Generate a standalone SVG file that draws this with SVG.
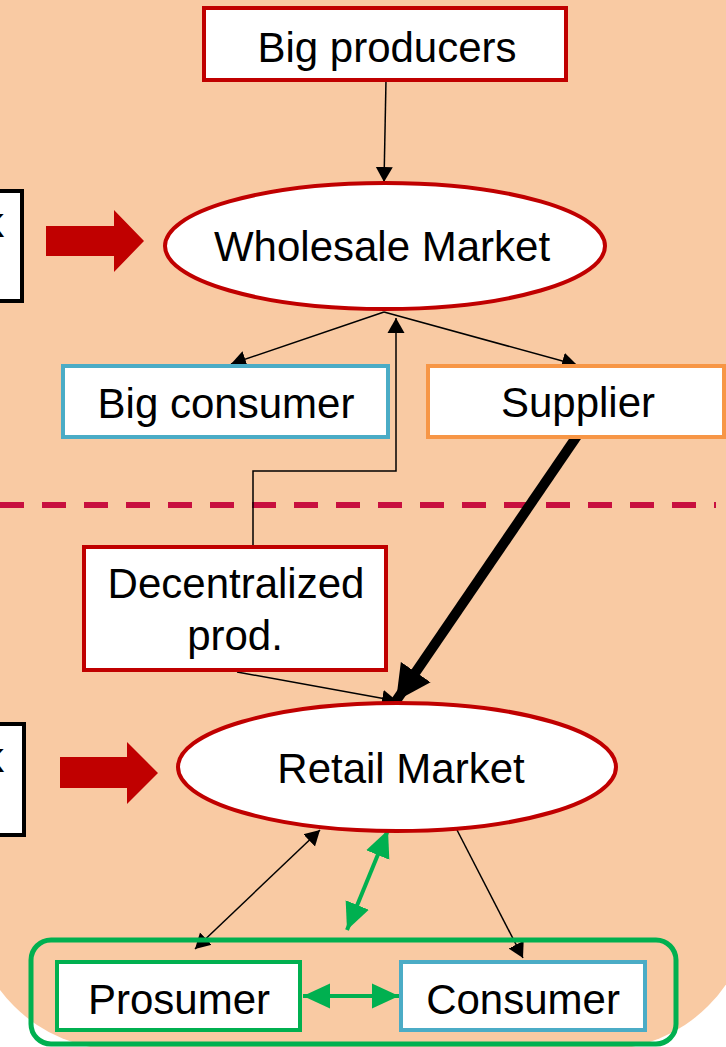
<svg xmlns="http://www.w3.org/2000/svg" width="726" height="1047" viewBox="0 0 726 1047">
  <defs>
    <style>
      .box { fill: #ffffff; stroke-width: 4; }
      .red { stroke: #C00000; }
      .blue { stroke: #4BACC6; }
      .orange { stroke: #F79646; }
      .green { stroke: #00B050; }
      .lbl { font-family: "Liberation Sans", Arial, sans-serif; font-size: 42px; fill: #000000; text-anchor: middle; }
      .thin { fill: none; stroke: #000000; stroke-width: 1.5; }
      .gline { fill: none; stroke: #00B050; stroke-width: 4; }
    </style>
    <marker id="ah" markerUnits="userSpaceOnUse" markerWidth="16" markerHeight="18" viewBox="0 0 16 18" refX="15" refY="9" orient="auto-start-reverse">
      <path d="M0,0.5 L15,9 L0,17.5 Z" fill="#000000"/>
    </marker>
    <marker id="ahBig" markerUnits="userSpaceOnUse" markerWidth="36" markerHeight="38" viewBox="0 0 36 38" refX="35" refY="19" orient="auto">
      <path d="M0,1 L35,19 L0,37 Z" fill="#000000"/>
    </marker>
    <marker id="ahG" markerUnits="userSpaceOnUse" markerWidth="28" markerHeight="26" viewBox="0 0 28 26" refX="27" refY="13" orient="auto-start-reverse">
      <path d="M0,0.5 L27,13 L0,25.5 Z" fill="#00B050"/>
    </marker>
  </defs>

  <!-- background panel -->
  <rect x="-30" y="-300" width="782" height="1350" rx="150" ry="150" fill="#F9CAA3"/>

  <!-- boundary between upper and lower level -->
  <line x1="0" y1="505" x2="716" y2="505" stroke="#C8103F" stroke-width="6" stroke-dasharray="24 18"/>

  <!-- side boxes cut at the left edge -->
  <g id="side-top">
    <rect x="-40" y="191" width="62" height="110" fill="#ffffff" stroke="#000000" stroke-width="4"/>
    <text class="lbl" x="4" y="237" style="text-anchor:end">k</text>
  </g>
  <g id="side-bottom">
    <rect x="-40" y="724" width="64" height="111" fill="#ffffff" stroke="#000000" stroke-width="4"/>
    <text class="lbl" x="4" y="772" style="text-anchor:end">k</text>
  </g>

  <!-- block arrows -->
  <g id="block-arrows" fill="#C00000">
    <path d="M46,226 L114,226 L114,210 L144,241 L114,272 L114,256 L46,256 Z"/>
    <path d="M60,757 L127,757 L127,742 L158,773 L127,804 L127,788 L60,788 Z"/>
  </g>

  <!-- connectors -->
  <g id="connectors">
    <line class="thin" x1="386" y1="80" x2="384" y2="182" marker-end="url(#ah)"/>
    <line class="thin" x1="384" y1="312" x2="231" y2="364" marker-end="url(#ah)"/>
    <line class="thin" x1="384" y1="312" x2="577" y2="365" marker-end="url(#ah)"/>
    <polyline class="thin" points="253,547 253,471 396,471 396,318" marker-end="url(#ah)"/>
    <line x1="577" y1="436" x2="396" y2="701" stroke="#000000" stroke-width="10" marker-end="url(#ahBig)"/>
    <line class="thin" x1="237" y1="672" x2="397" y2="701" marker-end="url(#ah)"/>
    <line class="thin" x1="195" y1="949" x2="320" y2="830" marker-start="url(#ah)" marker-end="url(#ah)"/>
    <line class="thin" x1="457" y1="830" x2="523" y2="958" marker-end="url(#ah)"/>
    <line class="gline" x1="347" y1="930" x2="388" y2="830" marker-start="url(#ahG)" marker-end="url(#ahG)"/>
    <line class="gline" x1="303" y1="996" x2="399" y2="996" marker-start="url(#ahG)" marker-end="url(#ahG)"/>
  </g>

  <g id="big-producers">
    <rect class="box red" x="204" y="8" width="362" height="72"/>
    <text class="lbl" x="387" y="62">Big producers</text>
  </g>

  <g id="wholesale-market">
    <ellipse cx="385" cy="246" rx="220" ry="63" fill="#ffffff" stroke="#C00000" stroke-width="4"/>
    <text class="lbl" x="382" y="261">Wholesale Market</text>
  </g>

  <g id="big-consumer">
    <rect class="box blue" x="63" y="366" width="325" height="71"/>
    <text class="lbl" x="226" y="418">Big consumer</text>
  </g>

  <g id="supplier">
    <rect class="box orange" x="428" y="366" width="296" height="71"/>
    <text class="lbl" x="578" y="417">Supplier</text>
  </g>

  <g id="decentralized-prod">
    <rect class="box red" x="84" y="547" width="302" height="123"/>
    <text class="lbl" x="236" y="598">Decentralized</text>
    <text class="lbl" x="235" y="650">prod.</text>
  </g>

  <g id="retail-market">
    <ellipse cx="397" cy="767" rx="219" ry="64" fill="#ffffff" stroke="#C00000" stroke-width="4"/>
    <text class="lbl" x="401" y="783">Retail Market</text>
  </g>

  <g id="end-users">
    <rect x="31" y="940" width="645" height="104" rx="20" ry="20" fill="none" stroke="#00B050" stroke-width="5"/>
  </g>

  <g id="prosumer">
    <rect class="box green" x="57" y="962" width="243" height="68"/>
    <text class="lbl" x="179" y="1014">Prosumer</text>
  </g>

  <g id="consumer">
    <rect class="box blue" x="401" y="962" width="244" height="68"/>
    <text class="lbl" x="523" y="1014">Consumer</text>
  </g>
</svg>
